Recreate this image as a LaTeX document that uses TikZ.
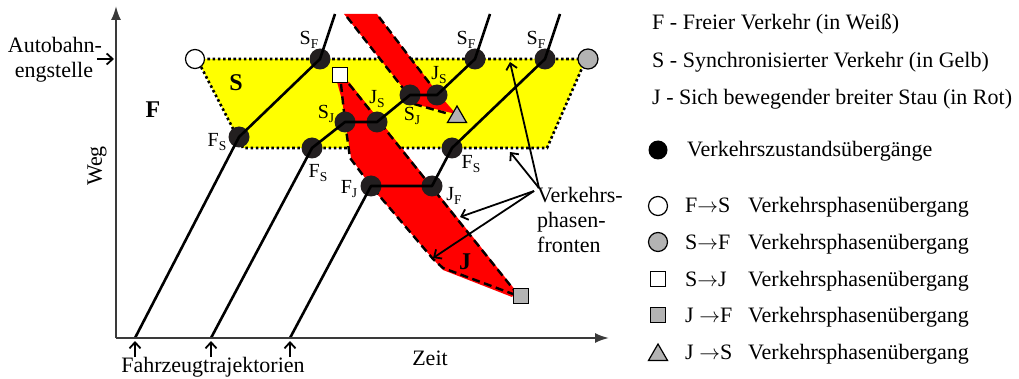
\documentclass[tikz,border=0pt]{standalone}
\usepackage{fontspec}
\setmainfont{Liberation Serif}
\usetikzlibrary{arrows.meta,shapes.geometric}
\definecolor{dotblack}{HTML}{231F20}
\definecolor{axisgray}{HTML}{3A3A3A}
\definecolor{markgray}{HTML}{B3B3B3}
\definecolor{jamred}{HTML}{FF0000}
\definecolor{synyellow}{HTML}{FFFF00}
\newcommand\lsub[1]{\raisebox{-4pt}{\fontsize{13.5}{14}\selectfont #1}}
\newcommand\larr{\ensuremath{\rightarrow}}
\begin{document}
\begin{tikzpicture}[x=1pt,y=-1pt,
  txt/.style={font=\fontsize{22}{25}\selectfont, inner sep=0pt},
  lab/.style={font=\fontsize{20}{22}\selectfont, inner sep=0pt},
  big/.style={font=\fontsize{24}{26}\selectfont\bfseries, inner sep=0pt},
  state/.style={circle, fill=dotblack, minimum size=21pt, inner sep=0pt},
  traj/.style={line width=2.6pt, line join=round},
  frontline/.style={line width=2.4pt, dash pattern=on 8pt off 4.5pt},
  syncborder/.style={line width=2.6pt, dash pattern=on 2.6pt off 2.6pt},
  axis/.style={line width=2pt, draw=axisgray, -{Latex[length=14pt,width=10pt]}},
  pointer/.style={line width=1.8pt, -{Straight Barb[length=6pt,width=11pt,line width=1.8pt]}},
  ring/.style={circle, draw=black, line width=1.2pt, minimum size=19pt, inner sep=0pt},
  sq/.style={rectangle, draw=black, line width=1.2pt, minimum size=15pt, inner sep=0pt},
  tri/.style={regular polygon, regular polygon sides=3, draw=black, fill=markgray, line width=1.2pt, minimum size=22pt, inner sep=0pt},
]
\useasboundingbox (0,0) rectangle (1019,379);

% synchronized region
\coordinate (y1) at (197,59);
\coordinate (y2) at (586,59);
\coordinate (y3) at (547,148);
\coordinate (y4) at (243,148);
\fill[synyellow] (y1) -- (y2) -- (y3) -- (y4) -- cycle;
\draw[syncborder] (y1) -- (y2) -- (y3) -- (y4) -- cycle;

% upper jam
\fill[jamred] (344,14) -- (377,14) -- (437,92) -- (456,114) -- (414,104) -- (404,89) -- cycle;
\draw[frontline] (347,17) -- (406,92);
\draw[frontline] (379,17) -- (437,93);
\draw[frontline] (414,104) -- (449,114);

% lower jam
\fill[jamred] (337,82) -- (349,82) -- (516,291) -- (512,297) -- (443,270) -- (433,259) -- (372,188) -- (351,158) -- (347,132) -- (342,100) -- cycle;
\draw[frontline] (349,84) -- (514,290);
\draw[frontline] (341,84) -- (345,122) -- (350,158) -- (371,186) -- (433,259) -- (443,268) -- (513,294);

% trajectory points
\coordinate (t1a) at (135,338);
\coordinate (t1b) at (335,14);
\coordinate (t2a) at (211,338);
\coordinate (t2b) at (490,14);
\coordinate (t3a) at (290,338);
\coordinate (t3b) at (560,14);

\node[state] (FS1) at (239,137) {};
\node[state] (SF1) at (320,59) {};
\node[state] (FS2) at (312,148) {};
\node[state] (SJ1) at (345,122) {};
\node[state] (JS1) at (377,122) {};
\node[state] (SJ2) at (410,95) {};
\node[state] (JS2) at (437,95) {};
\node[state] (SF2) at (475,59) {};
\node[state] (FJ) at (371,186) {};
\node[state] (JF) at (432,186) {};
\node[state] (FS3) at (452,148) {};
\node[state] (SF3) at (545,59) {};

\draw[traj] (t1a) -- (FS1.center) -- (SF1.center) -- (t1b);
\draw[traj] (t2a) -- (FS2.center) -- (SJ1.center) -- (JS1.center) -- (SJ2.center) -- (JS2.center) -- (SF2.center) -- (t2b);
\draw[traj] (t3a) -- (FJ.center) -- (JF.center) -- (FS3.center) -- (SF3.center) -- (t3b);

% phase transition markers
\node[ring, fill=white] (FtoS) at (195,59) {};
\node[ring, fill=markgray, minimum size=20pt] (StoF) at (588,59) {};
\node[sq, fill=white] (StoJ) at (340,75) {};
\node[sq, fill=markgray] (JtoF) at (521,296) {};
\node[tri] (JtoS) at (457,117) {};

% axes
\coordinate (O) at (116,338);
\coordinate (ytip) at (116,6);
\coordinate (xtip) at (609,338);
\draw[axis] (O) -- (ytip);
\draw[axis] (O) -- (xtip);

% labels of states
\node[lab] (lSF1) at (309,40) {S\lsub{F}};
\node[lab] (lFS1) at (217,142) {F\lsub{S}};
\node[lab] (lFS2) at (318,173) {F\lsub{S}};
\node[lab] (lSJ1) at (326,114) {S\lsub{J}};
\node[lab] (lJS1) at (377,99) {J\lsub{S}};
\node[lab] (lSJ2) at (412,116) {S\lsub{J}};
\node[lab] (lJS2) at (439,75) {J\lsub{S}};
\node[lab] (lSF2) at (466,40) {S\lsub{F}};
\node[lab] (lSF3) at (536,40) {S\lsub{F}};
\node[lab] (lFS3) at (471,164) {F\lsub{S}};
\node[lab] (lFJ) at (349,189) {F\lsub{J}};
\node[lab] (lJF) at (454,196) {J\lsub{F}};

\node[big] (rF) at (153,110) {F};
\node[big] (rS) at (236,83) {S};
\node[big] (rJ) at (465,262) {J};

% axis texts
\node[txt, rotate=90] (weg) at (97,166) {Weg};
\node[txt, anchor=base] (zeit) at (430,365) {Zeit};
\node[txt, anchor=base] (fzt) at (213,372) {Fahrzeugtrajektorien};
\node[txt, anchor=base] (ab1) at (55,53) {Autobahn-};
\node[txt, anchor=base] (ab2) at (54,78) {engstelle};
\coordinate (abS) at (97,59);
\coordinate (abE) at (114,59);
\draw[pointer] (abS) -- (abE);
\foreach \x/\n in {135/a,211/b,290/c}{
  \coordinate (fs\n) at (\x,357);
  \coordinate (fe\n) at (\x,341);
  \draw[pointer] (fs\n) -- (fe\n);
}

% fronts annotation
\node[txt, anchor=base west] (vk1) at (537,203) {Verkehrs-};
\node[txt, anchor=base west] (vk2) at (537,228) {phasen-};
\node[txt, anchor=base west] (vk3) at (537,253) {fronten};
\coordinate (vu) at (539,188);
\coordinate (vl) at (534,191);
\coordinate (p1) at (510,62);
\coordinate (p2) at (510,152);
\coordinate (p3) at (460,217);
\coordinate (p4) at (433,258);
\draw[pointer] (vu) -- (p1);
\draw[pointer] (vu) -- (p2);
\draw[pointer] (vl) -- (p3);
\draw[pointer] (vl) -- (p4);

% legend
\node[txt, anchor=base west] (lg1) at (652,30) {F - Freier Verkehr (in Weiß)};
\node[txt, anchor=base west] (lg2) at (652,68) {S - Synchronisierter Verkehr (in Gelb)};
\node[txt, anchor=base west] (lg3) at (652,105) {J - Sich bewegender breiter Stau (in Rot)};
\node[state, minimum size=19pt, fill=black] (lgdot) at (658,150) {};
\node[txt, anchor=base west] (lg4) at (687,157) {Verkehrszustandsübergänge};

\node[ring, fill=white] (lgm1) at (658,206) {};
\node[ring, fill=markgray] (lgm2) at (658,242) {};
\node[sq, fill=white] (lgm3) at (658,279) {};
\node[sq, fill=markgray] (lgm4) at (658,315) {};
\node[tri] (lgm5) at (658,355) {};
\node[txt, anchor=base west] (lp1) at (685,213) {F\larr S};
\node[txt, anchor=base west] (lp2) at (685,249) {S\larr F};
\node[txt, anchor=base west] (lp3) at (685,286) {S\larr J};
\node[txt, anchor=base west] (lp4) at (685,322) {J \larr F};
\node[txt, anchor=base west] (lp5) at (685,359) {J \larr S};
\foreach \i/\yy in {1/213,2/249,3/286,4/322,5/359}{
  \node[txt, anchor=base west] (lw\i) at (748,\yy) {Verkehrsphasenübergang};
}
\end{tikzpicture}
\end{document}
